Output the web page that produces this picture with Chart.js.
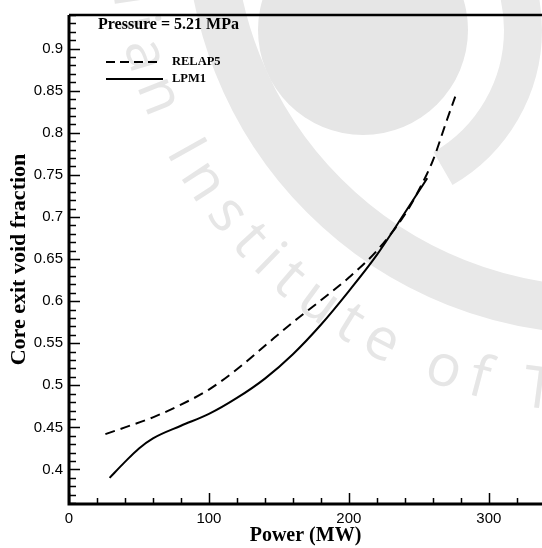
<!DOCTYPE html>
<html>
<head>
<meta charset="utf-8">
<script src="https://cdn.jsdelivr.net/npm/chart.js@4/dist/chart.umd.min.js"></script>
<style>
    html, body { margin: 0; padding: 0; background: #fff; }
    #wrap { width: 542px; height: 548px; }
</style>
</head>
<body>
<div id="wrap"><canvas id="voidChart"></canvas></div>
<script>
// Core exit void fraction vs power, pressure 5.21 MPa
const relapPower = [26, 40, 60, 80, 100, 120, 140, 160, 180, 200, 220, 240, 250, 260, 270, 276];
const relapVoid  = [0.442, 0.450, 0.462, 0.477, 0.495, 0.519, 0.547, 0.575, 0.601, 0.628, 0.660, 0.703, 0.732, 0.767, 0.815, 0.843];
const lpmPower = [29, 40, 50, 60, 80, 100, 120, 140, 160, 180, 200, 220, 240, 256];
const lpmVoid  = [0.390, 0.409, 0.425, 0.437, 0.452, 0.466, 0.485, 0.508, 0.537, 0.572, 0.612, 0.655, 0.705, 0.746];
const seriesNames = ['RELAP5', 'LPM1'];
const noteText = 'Pressure = 5.21 MPa';
const xTitle = 'Power (MW)';
const yTitle = 'Core exit void fraction';
const watermarkText = 'Indian Institute of Technology';

const serif = '"Liberation Serif", "Times New Roman", serif';
const sans = '"Liberation Sans", Arial, sans-serif';

function toPoints(xs, ys) {
    return xs.map((x, i) => ({ x: x, y: ys[i] }));
}

// faint logo watermark behind the plot
const watermarkPlugin = {
    id: 'watermark',
    beforeDraw(chart) {
        const ctx = chart.ctx;
        ctx.save();
        // inner disk
        ctx.fillStyle = '#e6e6e6';
        ctx.beginPath();
        ctx.arc(363, 30, 105, 0, Math.PI * 2);
        ctx.fill();
        // ring round the disk (right side)
        ctx.strokeStyle = '#e9e9e9';
        ctx.lineWidth = 38;
        ctx.beginPath();
        ctx.arc(363, 30, 160, -Math.PI / 2, Math.PI / 3);
        ctx.stroke();
        // big outer band
        ctx.strokeStyle = '#e8e8e8';
        ctx.lineWidth = 48;
        ctx.beginPath();
        ctx.arc(600, -80, 390, 0, Math.PI);
        ctx.stroke();
        // curved lettering
        const cx = 600, cy = -80, r = 492, extra = 11;
        ctx.fillStyle = '#e6e6e6';
        ctx.font = '58px "Open Sans", sans-serif';
        ctx.textBaseline = 'alphabetic';
        ctx.textAlign = 'center';
        const adv = ch => ctx.measureText(ch).width + extra;
        const startIdx = watermarkText.indexOf('Institute');
        let theta = 152.5 * Math.PI / 180;
        // walk back to the first character
        for (let i = startIdx - 1; i >= 0; i--) {
            theta += adv(watermarkText[i]) / r;
        }
        for (let i = 0; i < watermarkText.length; i++) {
            const w = adv(watermarkText[i]);
            const t = theta - (w / 2) / r;
            ctx.save();
            ctx.translate(cx + r * Math.cos(t), cy + r * Math.sin(t));
            ctx.rotate(t - Math.PI / 2);
            ctx.fillText(watermarkText[i], 0, 0);
            ctx.restore();
            theta -= w / r;
        }
        ctx.restore();
    }
};

// frame, inward ticks, note and legend
const framePlugin = {
    id: 'frame',
    afterDraw(chart) {
        const ctx = chart.ctx;
        const area = chart.chartArea;
        const xs = chart.scales.x, ys = chart.scales.y;
        ctx.save();
        ctx.strokeStyle = '#000';
        ctx.lineCap = 'butt';

        // minor + major ticks on x
        ctx.lineWidth = 1.5;
        for (let v = 0; v <= xs.max; v += 20) {
            const px = Math.round(xs.getPixelForValue(v)) + 0.5;
            const len = v % 100 === 0 ? 11 : 6;
            ctx.beginPath();
            ctx.moveTo(px, area.bottom);
            ctx.lineTo(px, area.bottom - len);
            ctx.stroke();
        }
        // minor + major ticks on y
        for (let k = 36; k <= 94; k++) {
            const v = k / 100;
            if (v < ys.min || v > ys.max) continue;
            const py = Math.round(ys.getPixelForValue(v)) + 0.5;
            const len = k % 5 === 0 ? 11 : 7;
            ctx.beginPath();
            ctx.moveTo(area.left, py);
            ctx.lineTo(area.left + len, py);
            ctx.stroke();
        }

        // axes frame
        ctx.lineWidth = 3;
        ctx.beginPath();
        ctx.moveTo(area.left, area.top);
        ctx.lineTo(area.left, area.bottom);
        ctx.lineTo(area.right, area.bottom);
        ctx.stroke();
        ctx.lineWidth = 2.5;
        ctx.beginPath();
        ctx.moveTo(area.left, area.top);
        ctx.lineTo(area.right, area.top);
        ctx.stroke();

        // pressure note
        ctx.fillStyle = '#000';
        ctx.font = 'bold 16px ' + serif;
        ctx.textBaseline = 'middle';
        ctx.fillText(noteText, 98, 25);

        // legend
        ctx.lineWidth = 2;
        ctx.setLineDash([9, 5]);
        ctx.beginPath();
        ctx.moveTo(106, 62);
        ctx.lineTo(157, 62);
        ctx.stroke();
        ctx.setLineDash([]);
        ctx.beginPath();
        ctx.moveTo(106, 79);
        ctx.lineTo(163, 79);
        ctx.stroke();
        ctx.font = 'bold 12.5px ' + serif;
        ctx.fillText(seriesNames[0], 172, 62);
        ctx.fillText(seriesNames[1], 172, 79);
        ctx.restore();
    }
};

const ctx = document.getElementById('voidChart').getContext('2d');
new Chart(ctx, {
    type: 'scatter',
    data: {
        datasets: [{
            label: seriesNames[0],
            data: toPoints(relapPower, relapVoid),
            showLine: true,
            borderColor: '#000',
            borderWidth: 2,
            borderDash: [10, 6],
            pointRadius: 0,
            cubicInterpolationMode: 'monotone'
        }, {
            label: seriesNames[1],
            data: toPoints(lpmPower, lpmVoid),
            showLine: true,
            borderColor: '#000',
            borderWidth: 2,
            pointRadius: 0,
            cubicInterpolationMode: 'monotone'
        }]
    },
    options: {
        responsive: true,
        maintainAspectRatio: false,
        animation: false,
        layout: { padding: { top: 7, right: 0, bottom: 0, left: 0 } },
        plugins: {
            legend: { display: false },
            tooltip: { enabled: false }
        },
        scales: {
            x: {
                type: 'linear',
                min: 0,
                max: 338,
                border: { display: false },
                grid: { display: false, drawTicks: false },
                ticks: {
                    stepSize: 100,
                    includeBounds: false,
                    padding: 6,
                    color: '#000',
                    font: { family: sans, size: 15 },
                    maxRotation: 0
                },
                title: {
                    display: true,
                    text: xTitle,
                    color: '#000',
                    font: { family: serif, size: 20, weight: 'bold' },
                    padding: { top: 1, bottom: 0 }
                },
                afterFit(scale) { scale.height = 44; }
            },
            y: {
                type: 'linear',
                min: 0.359,
                max: 0.94,
                border: { display: false },
                grid: { display: false, drawTicks: false },
                ticks: {
                    stepSize: 0.05,
                    includeBounds: false,
                    padding: 6,
                    color: '#000',
                    font: { family: sans, size: 15 },
                    callback: v => String(Number(v.toFixed(2)))
                },
                title: {
                    display: true,
                    text: yTitle,
                    color: '#000',
                    font: { family: serif, size: 22, weight: 'bold' },
                    padding: { top: 6, bottom: 0 }
                },
                afterFit(scale) { scale.width = 69; }
            }
        }
    },
    plugins: [watermarkPlugin, framePlugin]
});
</script>
</body>
</html>
